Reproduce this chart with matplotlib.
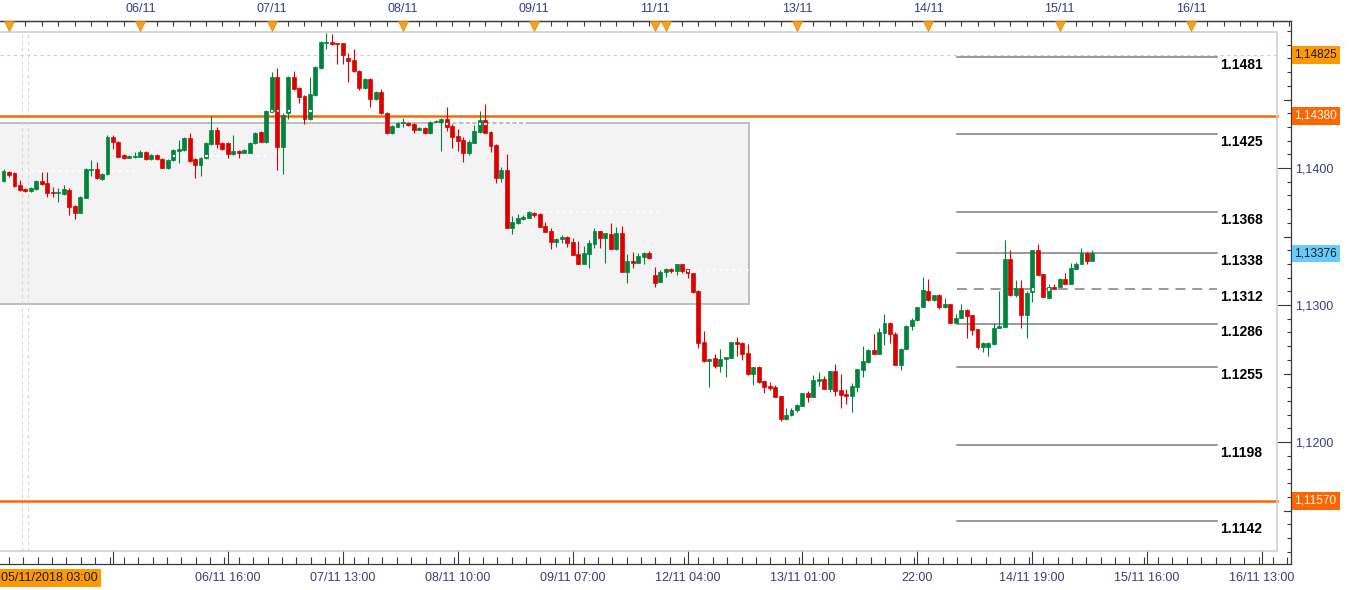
"""EUR/USD hourly candles 05/11 - 15/11/2018 with range box, S/R lines and fib levels."""

import matplotlib

matplotlib.use("Agg")
import matplotlib.pyplot as plt
import matplotlib.transforms as mtransforms
from matplotlib.patches import Rectangle
from matplotlib.ticker import FixedLocator, MultipleLocator
import numpy as np

plt.rcParams["font.family"] = ["Liberation Sans", "DejaVu Sans"]

W, H, DPI = 1350, 590, 100

# ---- data ---------------------------------------------------------------
# hourly bars; bar 0 = 05/11 00:00, bar -1 = Sunday 23:00 open, weekend collapsed
FIRST_BAR = -1
OPEN = [
    1.13905, 1.13971, 1.13964, 1.13876, 1.13847, 1.13832, 1.13847, 1.13905, 1.13891, 1.13825,
    1.13818, 1.13810, 1.13839, 1.13723, 1.13672, 1.13781, 1.13985, 1.13993, 1.13920, 1.13956,
    1.14226, 1.14190, 1.14095, 1.14073, 1.14080, 1.14080, 1.14117, 1.14066, 1.14095, 1.14066,
    1.14000, 1.14058, 1.14124, 1.14131, 1.14219, 1.14066, 1.14022, 1.14073, 1.14175, 1.14277,
    1.14182, 1.14182, 1.14102, 1.14124, 1.14109, 1.14109, 1.14182, 1.14263, 1.14190, 1.14416,
    1.14664, 1.14153, 1.14401, 1.14664, 1.14584, 1.14526, 1.14358, 1.14533, 1.14730, 1.14912,
    1.14920, 1.14912, 1.14912, 1.14803, 1.14788, 1.14708, 1.14584, 1.14650, 1.14504, 1.14555,
    1.14401, 1.14255, 1.14299, 1.14328, 1.14328, 1.14321, 1.14277, 1.14292, 1.14255, 1.14336,
    1.14336, 1.14358, 1.14307, 1.14234, 1.14204, 1.14109, 1.14182, 1.14263, 1.14350, 1.14263,
    1.14168, 1.13927, 1.13985, 1.13562, 1.13599, 1.13628, 1.13635, 1.13672, 1.13664, 1.13577,
    1.13540, 1.13460, 1.13482, 1.13496, 1.13460, 1.13372, 1.13299, 1.13372, 1.13445, 1.13540,
    1.13489, 1.13518, 1.13409, 1.13525, 1.13241, 1.13321, 1.13307, 1.13350, 1.13380, 1.13219,
    1.13168, 1.13241, 1.13263, 1.13248, 1.13299, 1.13255, 1.13234, 1.13102, 1.12730, 1.12591,
    1.12613, 1.12555, 1.12606, 1.12613, 1.12730, 1.12723, 1.12650, 1.12496, 1.12547, 1.12445,
    1.12409, 1.12401, 1.12336, 1.12168, 1.12197, 1.12234, 1.12263, 1.12358, 1.12328, 1.12445,
    1.12460, 1.12387, 1.12518, 1.12380, 1.12350, 1.12336, 1.12401, 1.12526, 1.12584, 1.12672,
    1.12642, 1.12796, 1.12869, 1.12788, 1.12562, 1.12679, 1.12847, 1.12891, 1.12985, 1.13102,
    1.13036, 1.13073, 1.12985, 1.13007, 1.12869, 1.12905, 1.12963, 1.12927, 1.12825, 1.12693,
    1.12693, 1.12715, 1.12832, 1.12839, 1.13336, 1.13073, 1.13124, 1.12927, 1.13095, 1.13401,
    1.13226, 1.13051, 1.13131, 1.13131, 1.13190, 1.13153, 1.13263, 1.13299, 1.13380, 1.13321,
]
HIGH = [
    1.13993, 1.13978, 1.13971, 1.13912, 1.13854, 1.13861, 1.13912, 1.13971, 1.13971, 1.13861,
    1.13854, 1.13876, 1.13854, 1.13730, 1.13796, 1.14000, 1.14058, 1.14044, 1.13964, 1.14241,
    1.14241, 1.14197, 1.14102, 1.14095, 1.14117, 1.14131, 1.14124, 1.14102, 1.14102, 1.14073,
    1.14066, 1.14139, 1.14204, 1.14226, 1.14255, 1.14073, 1.14080, 1.14190, 1.14380, 1.14299,
    1.14190, 1.14190, 1.14241, 1.14131, 1.14139, 1.14190, 1.14263, 1.14270, 1.14423, 1.14701,
    1.14730, 1.14401, 1.14672, 1.14708, 1.14591, 1.14533, 1.14664, 1.14745, 1.14927, 1.14985,
    1.14978, 1.14912, 1.14912, 1.14839, 1.14869, 1.14715, 1.14657, 1.14657, 1.14562, 1.14577,
    1.14409, 1.14314, 1.14336, 1.14365, 1.14336, 1.14328, 1.14299, 1.14299, 1.14343, 1.14350,
    1.14365, 1.14445, 1.14321, 1.14285, 1.14226, 1.14204, 1.14314, 1.14416, 1.14467, 1.14270,
    1.14175, 1.14007, 1.14102, 1.13650, 1.13664, 1.13657, 1.13686, 1.13679, 1.13672, 1.13606,
    1.13562, 1.13489, 1.13511, 1.13504, 1.13489, 1.13467, 1.13431, 1.13474, 1.13562, 1.13540,
    1.13525, 1.13599, 1.13569, 1.13577, 1.13372, 1.13387, 1.13380, 1.13387, 1.13394, 1.13277,
    1.13255, 1.13270, 1.13270, 1.13299, 1.13299, 1.13255, 1.13234, 1.13109, 1.12810, 1.12613,
    1.12642, 1.12679, 1.12620, 1.12730, 1.12766, 1.12730, 1.12715, 1.12547, 1.12555, 1.12445,
    1.12438, 1.12416, 1.12336, 1.12248, 1.12248, 1.12277, 1.12358, 1.12372, 1.12489, 1.12511,
    1.12482, 1.12518, 1.12569, 1.12496, 1.12387, 1.12431, 1.12533, 1.12701, 1.12679, 1.12788,
    1.12832, 1.12934, 1.12876, 1.12803, 1.12686, 1.12854, 1.12905, 1.12985, 1.13204, 1.13190,
    1.13073, 1.13080, 1.13051, 1.13007, 1.12934, 1.13007, 1.12971, 1.12927, 1.12825, 1.12730,
    1.12730, 1.12869, 1.13102, 1.13474, 1.13401, 1.13182, 1.13182, 1.13102, 1.13401, 1.13445,
    1.13226, 1.13153, 1.13153, 1.13197, 1.13234, 1.13307, 1.13314, 1.13416, 1.13387, 1.13401,
]
LOW = [
    1.13898, 1.13934, 1.13861, 1.13832, 1.13825, 1.13825, 1.13839, 1.13876, 1.13788, 1.13788,
    1.13752, 1.13803, 1.13657, 1.13628, 1.13672, 1.13781, 1.13942, 1.13920, 1.13912, 1.13949,
    1.14139, 1.14080, 1.14066, 1.14073, 1.14073, 1.14080, 1.14058, 1.14058, 1.14058, 1.14000,
    1.13993, 1.14051, 1.14036, 1.14124, 1.14044, 1.13927, 1.13942, 1.14066, 1.14168, 1.14146,
    1.14131, 1.14073, 1.14095, 1.14073, 1.14109, 1.14109, 1.14175, 1.14190, 1.14182, 1.14409,
    1.13985, 1.13956, 1.14358, 1.14569, 1.14474, 1.14321, 1.14350, 1.14526, 1.14723, 1.14869,
    1.14898, 1.14759, 1.14759, 1.14628, 1.14701, 1.14569, 1.14577, 1.14445, 1.14496, 1.14394,
    1.14248, 1.14248, 1.14299, 1.14299, 1.14307, 1.14255, 1.14277, 1.14248, 1.14248, 1.14336,
    1.14124, 1.14270, 1.14146, 1.14124, 1.14044, 1.14095, 1.14182, 1.14255, 1.14255, 1.14117,
    1.13891, 1.13898, 1.13562, 1.13518, 1.13591, 1.13620, 1.13635, 1.13642, 1.13569, 1.13533,
    1.13409, 1.13423, 1.13453, 1.13423, 1.13365, 1.13299, 1.13299, 1.13270, 1.13416, 1.13416,
    1.13307, 1.13409, 1.13401, 1.13241, 1.13161, 1.13270, 1.13307, 1.13299, 1.13336, 1.13131,
    1.13168, 1.13204, 1.13234, 1.13219, 1.13234, 1.13197, 1.13088, 1.12686, 1.12584, 1.12401,
    1.12540, 1.12511, 1.12474, 1.12613, 1.12628, 1.12599, 1.12489, 1.12416, 1.12431, 1.12358,
    1.12380, 1.12328, 1.12153, 1.12161, 1.12190, 1.12219, 1.12263, 1.12292, 1.12328, 1.12409,
    1.12387, 1.12365, 1.12336, 1.12248, 1.12277, 1.12219, 1.12365, 1.12474, 1.12577, 1.12642,
    1.12642, 1.12708, 1.12723, 1.12562, 1.12526, 1.12679, 1.12818, 1.12883, 1.12985, 1.13029,
    1.13029, 1.12971, 1.12978, 1.12869, 1.12869, 1.12905, 1.12759, 1.12781, 1.12679, 1.12657,
    1.12628, 1.12708, 1.12832, 1.12839, 1.13066, 1.13058, 1.12832, 1.12759, 1.13022, 1.13219,
    1.13058, 1.13044, 1.13117, 1.13131, 1.13153, 1.13153, 1.13263, 1.13299, 1.13299, 1.13321,
]
CLOSE = [
    1.13978, 1.13949, 1.13869, 1.13839, 1.13832, 1.13854, 1.13905, 1.13883, 1.13818, 1.13818,
    1.13825, 1.13847, 1.13715, 1.13672, 1.13788, 1.13993, 1.13993, 1.13927, 1.13956, 1.14226,
    1.14190, 1.14080, 1.14073, 1.14088, 1.14088, 1.14117, 1.14066, 1.14095, 1.14066, 1.14000,
    1.14058, 1.14131, 1.14139, 1.14219, 1.14051, 1.14022, 1.14073, 1.14182, 1.14277, 1.14175,
    1.14139, 1.14102, 1.14124, 1.14109, 1.14131, 1.14182, 1.14255, 1.14190, 1.14416, 1.14664,
    1.14153, 1.14387, 1.14664, 1.14577, 1.14518, 1.14358, 1.14540, 1.14737, 1.14920, 1.14920,
    1.14905, 1.14905, 1.14825, 1.14781, 1.14708, 1.14584, 1.14650, 1.14504, 1.14555, 1.14401,
    1.14255, 1.14307, 1.14328, 1.14336, 1.14314, 1.14277, 1.14292, 1.14255, 1.14336, 1.14343,
    1.14358, 1.14299, 1.14226, 1.14197, 1.14109, 1.14190, 1.14270, 1.14350, 1.14255, 1.14161,
    1.13927, 1.13985, 1.13562, 1.13606, 1.13635, 1.13642, 1.13679, 1.13657, 1.13569, 1.13533,
    1.13460, 1.13482, 1.13496, 1.13453, 1.13365, 1.13299, 1.13380, 1.13453, 1.13540, 1.13489,
    1.13525, 1.13409, 1.13525, 1.13241, 1.13321, 1.13307, 1.13358, 1.13380, 1.13343, 1.13161,
    1.13241, 1.13263, 1.13248, 1.13299, 1.13248, 1.13234, 1.13095, 1.12723, 1.12591, 1.12606,
    1.12555, 1.12606, 1.12620, 1.12730, 1.12715, 1.12642, 1.12496, 1.12547, 1.12438, 1.12401,
    1.12394, 1.12328, 1.12168, 1.12197, 1.12234, 1.12270, 1.12358, 1.12328, 1.12453, 1.12460,
    1.12387, 1.12518, 1.12372, 1.12343, 1.12336, 1.12409, 1.12533, 1.12591, 1.12672, 1.12642,
    1.12803, 1.12869, 1.12788, 1.12562, 1.12679, 1.12847, 1.12891, 1.12985, 1.13109, 1.13036,
    1.13073, 1.12985, 1.13007, 1.12869, 1.12905, 1.12963, 1.12920, 1.12818, 1.12693, 1.12723,
    1.12723, 1.12832, 1.12847, 1.13336, 1.13073, 1.13124, 1.12927, 1.13088, 1.13401, 1.13219,
    1.13058, 1.13131, 1.13117, 1.13190, 1.13153, 1.13270, 1.13299, 1.13380, 1.13321, 1.13376,
]

DAY_BARS = [0, 24, 48, 72, 96, 118, 120, 144, 168, 192, 216]
DAY_LABELS = ["", "06/11", "07/11", "08/11", "09/11", "11/11", "", "13/11", "14/11", "15/11", "16/11"]
TIME_BARS = [19, 40, 61, 82, 103, 124, 145, 166, 187, 208, 229]
TIME_LABELS = ["", "06/11 16:00", "07/11 13:00", "08/11 10:00", "09/11 07:00", "12/11 04:00",
               "13/11 01:00", "22:00", "14/11 19:00", "15/11 16:00", "16/11 13:00"]
CURSOR_LABEL = "05/11/2018 03:00"
CURSOR_BARS = [2.4, 3.5]

PRICE_TICKS = [1.12, 1.13, 1.14]
PRICE_LABELS = ["1,1200", "1,1300", "1,1400"]
HALF_TICKS = [1.115, 1.125, 1.135, 1.145]

FIB_LEVELS = [1.1481, 1.1425, 1.1368, 1.1338, 1.1312, 1.1286, 1.1255, 1.1198, 1.1142]
FIB_DASHED = 1.1312
FIB_START, FIB_END = 173.2, 220.8
SR_LEVELS = [1.1438, 1.1157]
HIGH_LEVEL = 1.14825
TAG_PRICES = [1.14825, 1.1438, 1.13376, 1.1157]
TAG_TEXT = ["1,14825", "1,14380", "1,13376", "1,11570"]
TAG_BG = ["#FF9900", "#FF6600", "#66CCFF", "#FF6600"]
TAG_FG = ["#1A1A1A", "white", "#1A1A1A", "white"]

RANGE_LOW, RANGE_HIGH, RANGE_END = 1.13009, 1.14328, 135.2

PIVOT_LEVELS = [1.13978, 1.14088, 1.14328, 1.13679, 1.13253]
PIVOT_START = [-3, 25.8, 77, 97.6, 125]
PIVOT_END = [23, 47.2, 95.2, 119, 136.3]
TOUCH_BARS = [30, 36, 48, 49, 51, 55, 80, 86, 87, 124, 187, 190]
TOUCH_PRICES = [1.14088, 1.14088, 1.14418, 1.14418, 1.14418, 1.14418,
                1.14328, 1.14328, 1.14328, 1.13253, 1.13117, 1.13117]

GREEN, RED = "#00843D", "#DD0000"
ORANGE = "#FF6600"
AXIS_C = "#3A3A3A"
LABEL_C = "#3B3B86"
PANEL_C = "#C9D0DB"

# ---- figure -------------------------------------------------------------
fig = plt.figure(figsize=(W / DPI, H / DPI), dpi=DPI)
fig.patch.set_facecolor("white")
ax = fig.add_axes([0, 1 - 564 / H, 1291 / W, 543 / H])
ax.set_xlim(-1.645, 234.29)
ax.set_ylim(1.111095, 1.15073)

# inner panel (top, right, bottom edges) in axes fraction
P_R = 1277 / 1291
P_B = (564 - 551) / 543
P_T = (564 - 32) / 543
ax.plot([0, P_R, P_R, 0], [P_T, P_T, P_B, P_B], transform=ax.transAxes, color=PANEL_C,
        lw=1.2, zorder=6, clip_on=False)

# consolidation box
ax.add_patch(Rectangle((-10, RANGE_LOW), RANGE_END + 10, RANGE_HIGH - RANGE_LOW,
                       fc="#F3F3F3", ec="#BEBEBE", lw=1.4, zorder=1))
ax.hlines(PIVOT_LEVELS, PIVOT_START, PIVOT_END, colors="white", linestyles=(0, (1, 2)),
          lw=1.6, zorder=1.5)

for bx in CURSOR_BARS:
    ax.axvline(bx, ymin=P_B, ymax=P_T, color="#D6D6D6", lw=0.8, ls=(0, (3, 3)), zorder=1.2)

ax.axhline(HIGH_LEVEL, xmin=0, xmax=P_R, color="#CFCFCF", lw=0.8, ls=(0, (3, 3)), zorder=1.2)
for lvl in SR_LEVELS:
    ax.axhline(lvl, xmin=0, xmax=P_R, color=ORANGE, lw=1.8, zorder=2)

# candles
o, h, l, c = (np.array(a) for a in (OPEN, HIGH, LOW, CLOSE))
bars = np.arange(len(o)) + FIRST_BAR
cols = np.where(c >= o, GREEN, RED)
ax.vlines(bars, l, h, colors=cols, lw=0.8, zorder=3)
ax.bar(bars, np.abs(c - o), bottom=np.minimum(o, c), width=0.72, color=cols,
       edgecolor=cols, linewidth=0.5, zorder=4)
touch_cols = [cols[b - FIRST_BAR] for b in TOUCH_BARS]
ax.scatter(TOUCH_BARS, TOUCH_PRICES, marker="s", s=5, facecolors="white",
           edgecolors=touch_cols, linewidths=0.6, zorder=5)

# fibonacci levels
lab_tr = ax.transData + mtransforms.ScaledTranslation(0, -8 / DPI, fig.dpi_scale_trans)
for lvl in FIB_LEVELS:
    ls = (0, (6.5, 4.5)) if lvl == FIB_DASHED else "-"
    ax.plot([FIB_START, FIB_END], [lvl, lvl], color="#7F7F7F", lw=1.1, ls=ls, zorder=2)
    ax.text(FIB_END + 0.5, lvl, f"{lvl:.4f}", transform=lab_tr, ha="left", va="center",
            fontsize=10, fontweight="bold", color="black", zorder=6)

# price tags on the right
tag_tr = mtransforms.blended_transform_factory(ax.transAxes, ax.transData)
for p, txt, bg, fg in zip(TAG_PRICES, TAG_TEXT, TAG_BG, TAG_FG):
    ax.text(1.0027, p, txt, transform=tag_tr, ha="left", va="center", fontsize=8.5, color=fg,
            bbox=dict(boxstyle="square,pad=0.25", fc=bg, ec="none"), zorder=7, clip_on=False)
for p in HALF_TICKS:
    ax.plot([1 - 7 / 1291, 1], [p, p], transform=tag_tr, color=AXIS_C, lw=0.8,
            clip_on=False, zorder=7)

# spines & ticks
ax.spines["left"].set_visible(False)
for s in ("top", "right", "bottom"):
    ax.spines[s].set_color(AXIS_C)
    ax.spines[s].set_linewidth(0.9)

ax.yaxis.tick_right()
ax.yaxis.set_major_locator(FixedLocator(PRICE_TICKS))
ax.set_yticklabels(PRICE_LABELS)
ax.yaxis.set_minor_locator(MultipleLocator(0.001))
ax.tick_params(axis="y", which="major", direction="in", length=10, width=0.8, color=AXIS_C,
               pad=3, labelsize=9, labelcolor=LABEL_C)
ax.tick_params(axis="y", which="minor", direction="in", length=3.2, width=0.8, color=AXIS_C)

ax.xaxis.set_major_locator(FixedLocator(TIME_BARS))
ax.set_xticklabels(TIME_LABELS)
ax.xaxis.set_minor_locator(MultipleLocator(21 / 8))
ax.tick_params(axis="x", which="major", direction="in", length=10, width=0.8, color=AXIS_C,
               pad=6, labelsize=9, labelcolor=LABEL_C)
ax.tick_params(axis="x", which="minor", direction="in", length=5, width=0.8, color=AXIS_C)

top = ax.secondary_xaxis("top")
top.set_xticks(DAY_BARS, labels=DAY_LABELS)
top.xaxis.set_minor_locator(MultipleLocator(3))
top.tick_params(which="major", length=0, pad=4, labelsize=9, labelcolor=LABEL_C)
top.tick_params(which="minor", direction="in", length=3.6, width=0.8, color=AXIS_C)
top.spines["top"].set_color(AXIS_C)
top.spines["top"].set_linewidth(0.9)

tri_tr = mtransforms.blended_transform_factory(ax.transData, ax.transAxes)
ax.plot(DAY_BARS, [0.9917] * len(DAY_BARS), ls="none", marker="v", ms=6.5, mfc="#F7A21B",
        mec="#E08A00", mew=0.5, transform=tri_tr, clip_on=False, zorder=8)

fig.text(1 / W, 1 - 578 / H, CURSOR_LABEL, ha="left", va="center", fontsize=9, color="#1A1A1A",
         bbox=dict(boxstyle="square,pad=0.25", fc="#FF9900", ec="none"))

fig.savefig("out.png", dpi=DPI, facecolor="white")
